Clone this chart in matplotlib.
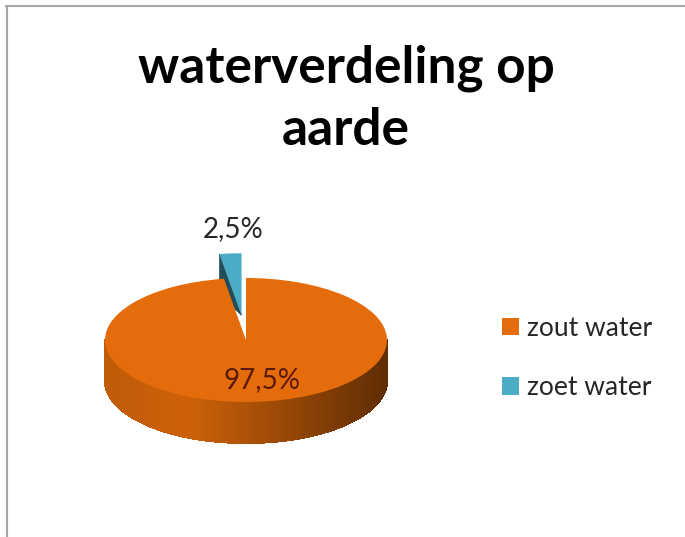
import numpy as np
import matplotlib
matplotlib.use("Agg")
import matplotlib.pyplot as plt
from matplotlib.patches import Polygon
from matplotlib.lines import Line2D
from matplotlib.colors import to_rgb

plt.rcParams["font.family"] = ["Lato", "DejaVu Sans"]

# data
title_lines = ["waterverdeling op", "aarde"]
labels = ["zout water", "zoet water"]
values = [97.5, 2.5]
top_colors = ["#e46c0a", "#4bacc6"]
explode = [0, 0.4]

W, H = 685, 537
fig = plt.figure(figsize=(W / 100, H / 100), dpi=100)


def fx(px):
    return px / W


def fy(py):
    return 1 - py / H


# pie geometry in pixels (top face ellipse + side depth)
cx, cy, rx, ry, depth = 246, 340, 141, 62, 41
ax = fig.add_axes([fx(cx - rx), fy(cy + ry), 2 * rx / W, 2 * ry / H])
start = 90 + 360 * values[1] / sum(values)
wedges, _ = ax.pie(values, colors=top_colors, startangle=start,
                   explode=explode, wedgeprops=dict(linewidth=0))
ax.set_aspect("auto")
ax.set_xlim(-1, 1)
ax.set_ylim(-1, 1)
ax.axis("off")
d = depth / ry


def shade(base, a):
    t = (np.cos(np.radians(a)) + 1) / 2
    f = np.interp(t, [0, 0.3, 1], [0.84, 0.9, 0.42])
    return tuple(np.array(to_rgb(base)) * f)


for i, w in enumerate(wedges):
    z = 1 if explode[i] > 0 else 3
    w.set_zorder(z + 1)
    w.set_clip_on(False)
    wx, wy = w.center
    t1, t2 = w.theta1, w.theta2
    # outer side, only the front half (180..360) is visible
    for k in range(-1, 3):
        lo = max(t1, 180 + 360 * k)
        hi = min(t2, 360 + 360 * k)
        if hi <= lo:
            continue
        angs = np.linspace(lo, hi, 181)
        for a1, a2 in zip(angs[:-1], angs[1:]):
            r1, r2 = np.radians(a1), np.radians(a2)
            pts = [(wx + np.cos(r1), wy + np.sin(r1)),
                   (wx + np.cos(r2), wy + np.sin(r2)),
                   (wx + np.cos(r2), wy + np.sin(r2) - d),
                   (wx + np.cos(r1), wy + np.sin(r1) - d)]
            c = shade(top_colors[i], (a1 + a2) / 2)
            ax.add_patch(Polygon(pts, closed=True, facecolor=c, edgecolor=c,
                                 linewidth=0.8, antialiased=False,
                                 zorder=z, clip_on=False))
    # cut face facing the viewer
    for edge, nrm in ((t2, t2 + 90), (t1, t1 - 90)):
        if np.sin(np.radians(nrm)) < -0.05:
            re = np.radians(edge)
            pts = [(wx, wy),
                   (wx + np.cos(re), wy + np.sin(re)),
                   (wx + np.cos(re), wy + np.sin(re) - d)]
            c = tuple(np.array(to_rgb(top_colors[i])) * 0.45)
            ax.add_patch(Polygon(pts, closed=True, facecolor=c, edgecolor=c,
                                 linewidth=0.5, zorder=z, clip_on=False))

# percentage labels
label_colors = ["#5a1a0a", "#262626"]
label_shift = [0.06, 0.05]  # small sideways nudge, axes units
for i, w in enumerate(wedges):
    mid = np.radians((w.theta1 + w.theta2) / 2)
    r = 0.64 if explode[i] == 0 else 1.4
    txt = f"{values[i]:.1f}".replace(".", ",") + "%"
    ax.text(w.center[0] + r * np.cos(mid) + label_shift[i],
            w.center[1] + r * np.sin(mid), txt,
            ha="center", va="center", fontsize=20, color=label_colors[i],
            zorder=10, clip_on=False)

# title
fig.text(fx(346), fy(82), title_lines[0], ha="center", va="baseline",
         fontsize=37, fontweight="bold", color="black")
fig.text(fx(346), fy(145), title_lines[1], ha="center", va="baseline",
         fontsize=37, fontweight="bold", color="black")

# legend
fig.legend(wedges, labels, loc="center left", bbox_to_anchor=(fx(502), fy(358)),
           frameon=False, fontsize=19, handlelength=0.65, handleheight=0.65,
           handletextpad=0.3, labelspacing=1.3, borderpad=0, borderaxespad=0,
           labelcolor="#262626")

# chart border (top and left visible)
fig.add_artist(Line2D([fx(7), fx(7)], [0, fy(6)], color="#a6a6a6", lw=1.5))
fig.add_artist(Line2D([fx(6), 1], [fy(6), fy(6)], color="#a6a6a6", lw=1.5))

fig.savefig("out.png", dpi=100)
